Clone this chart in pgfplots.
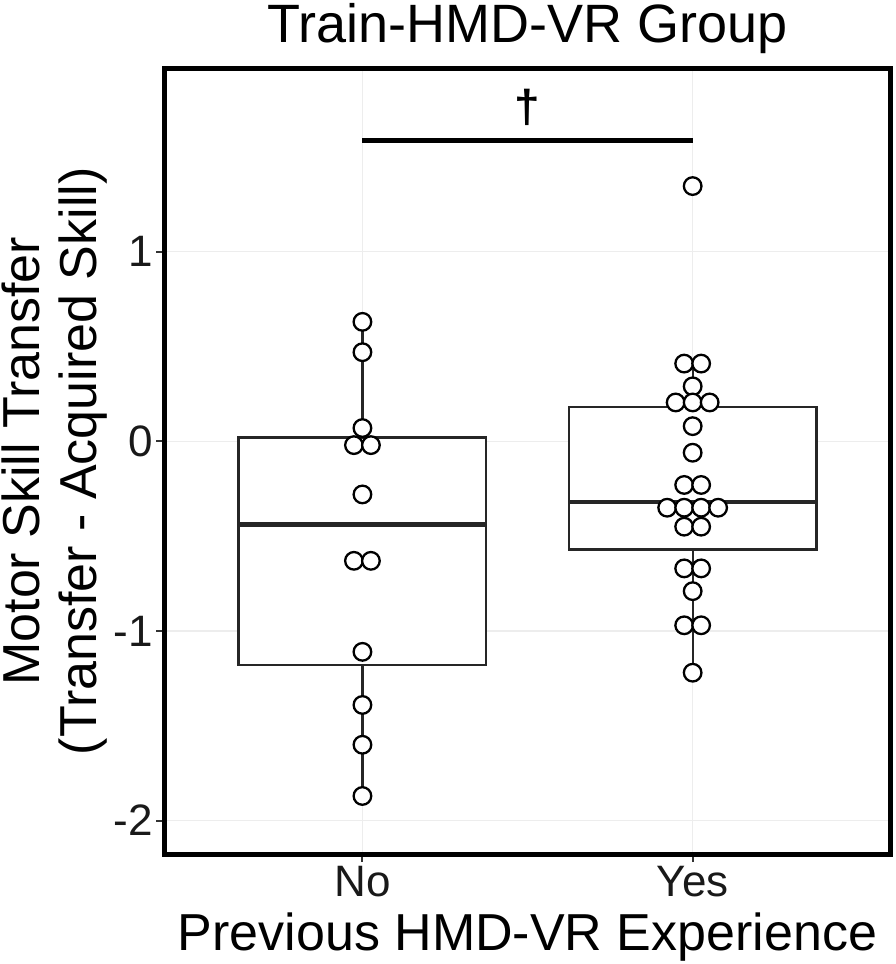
\documentclass[border=0pt]{standalone}
\usepackage{pgfplots}
\pgfplotsset{compat=1.18}
\usepgfplotslibrary{statistics}
\usepackage{fontspec}
\setmainfont{Liberation Sans}

\pgfplotstableread{
x y
0.9743 -0.02
1.0257 -0.02
1.0 0.07
1.0 0.47
1.0 0.63
1.0 -0.28
0.9743 -0.63
1.0257 -0.63
1.0 -1.11
1.0 -1.39
1.0 -1.60
1.0 -1.87
}\nogroup

\pgfplotstableread{
x y
2.0 1.346
1.9743 0.41
2.0257 0.41
2.0 0.29
1.9485 0.205
2.0 0.205
2.0515 0.205
2.0 0.08
2.0 -0.06
1.9743 -0.23
2.0257 -0.23
1.9228 -0.35
1.9743 -0.35
2.0257 -0.35
2.0772 -0.35
1.9743 -0.45
2.0257 -0.45
1.9743 -0.67
2.0257 -0.67
2.0 -0.79
1.9743 -0.97
2.0257 -0.97
2.0 -1.22
}\yesgroup

\begin{document}
\begin{tikzpicture}
\path[use as bounding box] (-164.3pt,-109.8pt) rectangle (731.7pt,854.2pt);
\begin{axis}[
  at={(0pt,0pt)}, anchor=south west,
  scale only axis, width=726.5pt, height=785.9pt,
  xmin=0.4, xmax=2.6, ymin=-2.177, ymax=1.967,
  axis line style={line width=4.8pt, black},
  xtick={1,2}, xticklabels={No,Yes},
  ytick={-2,-1,0,1}, yticklabels={-2,-1,0,1},
  xtick pos=bottom, ytick pos=left,
  tick align=outside, major tick length=8pt,
  major tick style={line width=2pt, black!80},
  grid=major, major grid style={line width=1.6pt, color=black!7},
  ticklabel style={font=\fontsize{44}{44}\selectfont, text=black!90},
  xlabel={Previous HMD-VR Experience},
  xlabel style={at={(axis description cs:0.5,-0.1219)}, anchor=base, font=\fontsize{52}{57}\selectfont, inner sep=0pt},
  ylabel={Motor Skill Transfer\\(Transfer - Acquired Skill)},
  ylabel style={at={(axis description cs:-0.15045,0.5)}, anchor=center, align=center, font=\fontsize{52}{57}\selectfont, inner sep=0pt},
  title={Train-HMD-VR Group},
  title style={at={(axis description cs:0.5,1.0258)}, anchor=base, font=\fontsize{54}{57}\selectfont, inner sep=0pt},
  clip=false,
  boxplot/draw direction=y,
  boxplot/every median/.style={line width=4.6pt, black!85},
]
\addplot[draw=black!85, line width=2.3pt, fill=white, solid,
  boxplot prepared={draw position=1, lower whisker=-1.87, lower quartile=-1.18,
    median=-0.44, upper quartile=0.02, upper whisker=0.63,
    box extend=0.75, whisker extend=0}] coordinates {};
\addplot[draw=black!85, line width=2.3pt, fill=white, solid,
  boxplot prepared={draw position=2, lower whisker=-1.22, lower quartile=-0.57,
    median=-0.32, upper quartile=0.18, upper whisker=0.41,
    box extend=0.75, whisker extend=0}] coordinates {};
\addplot[only marks, mark=*, mark size=8.8pt, mark options={fill=white, draw=black, line width=2.3pt}] table[x=x,y=y] {\nogroup};
\addplot[only marks, mark=*, mark size=8.8pt, mark options={fill=white, draw=black, line width=2.3pt}] table[x=x,y=y] {\yesgroup};
\addplot[black, line width=5pt] coordinates {(1,1.586) (2,1.586)};
\node[anchor=base, yshift=18pt, font=\fontsize{46}{46}\selectfont\bfseries, inner sep=0pt] at (axis cs:1.5,1.586) {†};
\end{axis}
\end{tikzpicture}
\end{document}
